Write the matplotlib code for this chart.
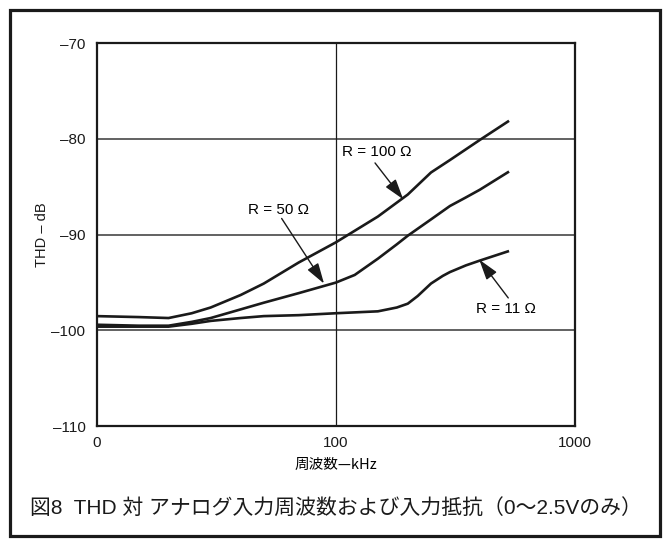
import matplotlib
matplotlib.use("Agg")
import matplotlib.pyplot as plt
from matplotlib.patches import Rectangle
from matplotlib.ticker import FixedLocator, FixedFormatter, NullLocator

# THD vs input frequency for three source resistances
freq_100 = [10, 15, 20, 25, 30, 40, 50, 70, 100, 150, 200, 250, 300, 400, 530]
thd_100 = [-98.5, -98.6, -98.7, -98.2, -97.6, -96.3, -95.1, -92.9, -90.8,
           -88.1, -85.8, -83.5, -82.2, -80.1, -78.1]

freq_50 = [10, 15, 20, 25, 30, 40, 50, 70, 100, 120, 150, 180, 200, 250,
           300, 350, 400, 530]
thd_50 = [-99.4, -99.5, -99.5, -99.1, -98.7, -97.8, -97.1, -96.1, -95.0,
          -94.2, -92.5, -91.0, -90.1, -88.4, -87.0, -86.1, -85.3, -83.4]

freq_11 = [10, 15, 20, 25, 30, 40, 50, 70, 100, 150, 180, 200, 220, 250,
           280, 300, 350, 400, 530]
thd_11 = [-99.6, -99.6, -99.6, -99.3, -99.0, -98.7, -98.5, -98.4, -98.2,
          -98.0, -97.6, -97.2, -96.4, -95.1, -94.3, -93.9, -93.2, -92.7, -91.7]

x_ticks = [10, 100, 1000]
x_tick_labels = ["0", "100", "1000"]
y_ticks = [-110, -100, -90, -80, -70]
y_tick_labels = ["–110", "–100", "–90", "–80", "–70"]

latin = ["Liberation Sans Narrow", "Liberation Sans", "Noto Sans CJK JP"]
plt.rcParams["font.family"] = latin

fig = plt.figure(figsize=(6.68, 5.44), dpi=100)
ax = fig.add_axes([0.1445, 0.2165, 0.7163, 0.704])

ax.set_xscale("log")
ax.set_xlim(10, 1000)
ax.set_ylim(-110, -70)

for f, v in [(freq_100, thd_100), (freq_50, thd_50), (freq_11, thd_11)]:
    ax.plot(f, v, color="#1a1a1a", lw=1.9, solid_joinstyle="round",
            solid_capstyle="butt", zorder=3)

# grid: horizontal lines grey, single vertical line at 100 kHz
for yv in [-100, -90, -80]:
    ax.axhline(yv, color="#555555", lw=1.3, zorder=1)
ax.axvline(100, color="#1a1a1a", lw=0.9, zorder=1)

ax.xaxis.set_major_locator(FixedLocator(x_ticks))
ax.xaxis.set_major_formatter(FixedFormatter(x_tick_labels))
ax.xaxis.set_minor_locator(NullLocator())
ax.yaxis.set_major_locator(FixedLocator(y_ticks))
ax.yaxis.set_major_formatter(FixedFormatter(y_tick_labels))
ax.tick_params(length=0, labelsize=11, colors="#1a1a1a")
ax.tick_params(axis="x", pad=7)
ax.tick_params(axis="y", pad=8)

for s in ax.spines.values():
    s.set_linewidth(1.6)
    s.set_color("#1a1a1a")

ax.set_xlabel("周波数—kHz", fontsize=10.5, labelpad=6,
              family=["Noto Sans CJK JP"])
ax.set_ylabel("THD – dB", fontsize=10.5, labelpad=2, color="#1a1a1a")

arrow = dict(arrowstyle="-|>,head_length=0.9,head_width=0.28",
             color="#1a1a1a", lw=1.0, mutation_scale=14, shrinkA=0, shrinkB=0)

ax.text(148.6, -81.4, "R = 100 Ω", fontsize=11, ha="center", va="center")
ax.annotate("", xy=(191.4, -86.3), xytext=(145.9, -82.5), arrowprops=arrow)

ax.text(57.4, -87.4, "R = 50 Ω", fontsize=11, ha="center", va="center")
ax.annotate("", xy=(89.3, -95.1), xytext=(59.4, -88.3), arrowprops=arrow)

ax.text(514, -97.75, "R = 11 Ω", fontsize=11, ha="center", va="center")
ax.annotate("", xy=(397.9, -92.6), xytext=(526, -96.6), arrowprops=arrow)

fig.text(0.045, 0.066,
         "図8  THD 対 アナログ入力周波数および入力抵抗（0〜2.5Vのみ）",
         fontsize=15, ha="left", va="center", color="#1a1a1a")

fig.patches.append(Rectangle((0.015, 0.0147), 0.973, 0.967, transform=fig.transFigure,
                             fill=False, edgecolor="#1a1a1a", lw=2.3))

fig.savefig("out.png", dpi=100)
